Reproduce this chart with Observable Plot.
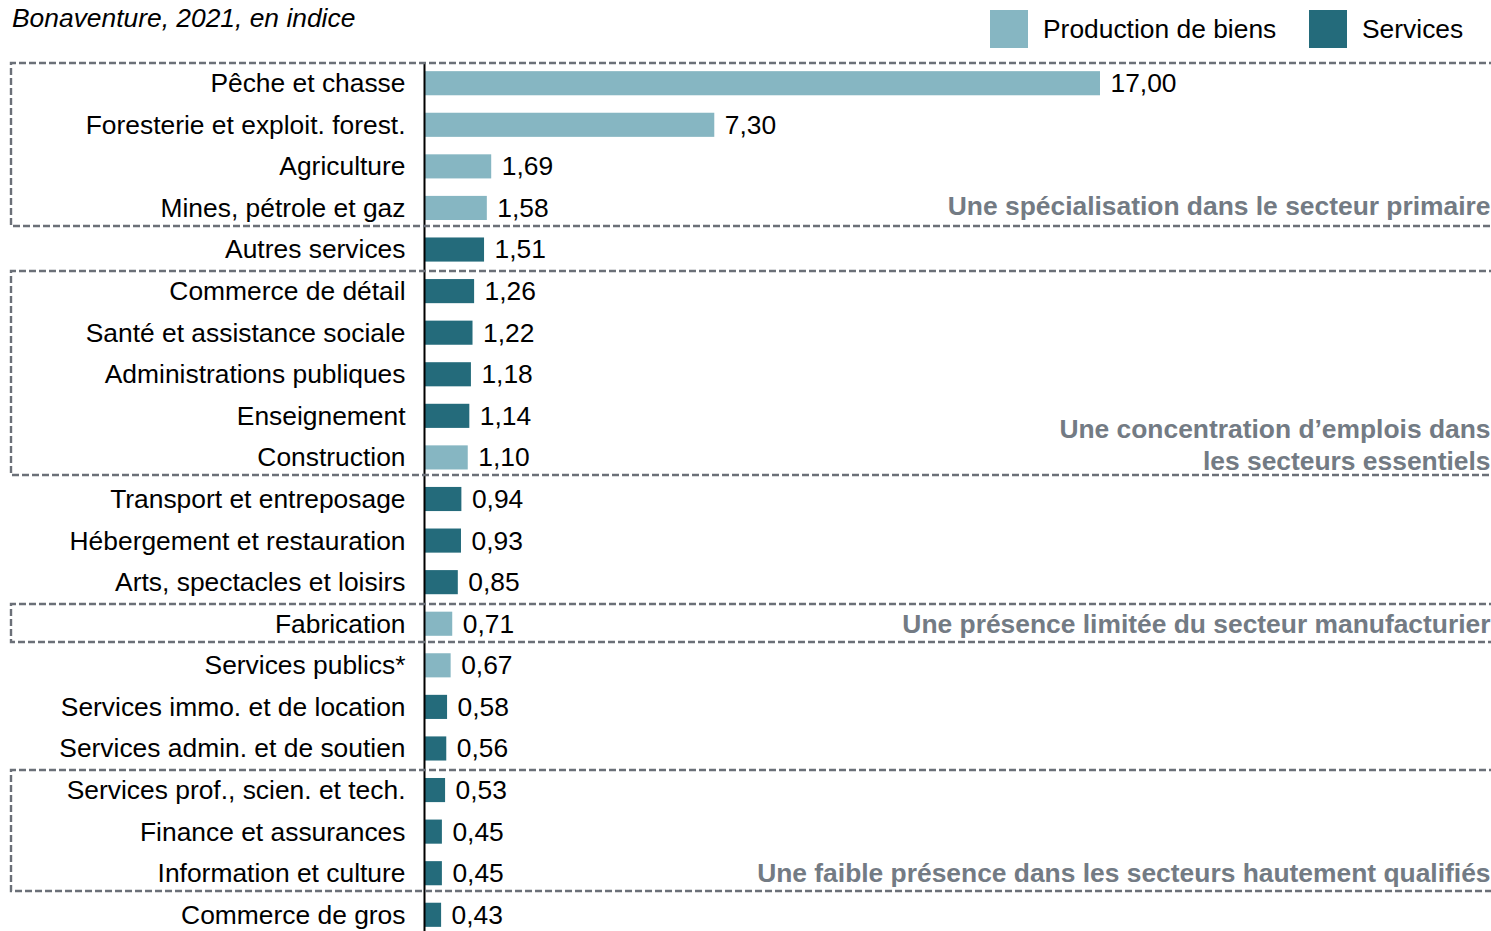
<!DOCTYPE html>
<html>
<head>
<meta charset="utf-8">
<script src="https://cdn.jsdelivr.net/npm/d3@7"></script>
<script src="https://cdn.jsdelivr.net/npm/@observablehq/plot@0.6"></script>
<style>
  html, body { margin: 0; padding: 0; background: #fff; }
  body { width: 1491px; height: 931px; overflow: hidden; font-family: "Liberation Sans", Arial, sans-serif; }
  #header { position: relative; height: 52px; }
  #title { position: absolute; left: 12px; top: 0; font-size: 26.4px; font-style: italic; line-height: 36px; color: #000; }
  .sw { position: absolute; top: 10px; width: 38px; height: 38px; }
  .lt { position: absolute; top: 10px; line-height: 38px; font-size: 26.4px; color: #000; }
</style>
</head>
<body>
<div id="header">
  <div id="title"></div>
  <div id="legend"></div>
</div>
<div id="chart"></div>
<script>
// ---- Data ----
const sectors = [
  "Pêche et chasse",
  "Foresterie et exploit. forest.",
  "Agriculture",
  "Mines, pétrole et gaz",
  "Autres services",
  "Commerce de détail",
  "Santé et assistance sociale",
  "Administrations publiques",
  "Enseignement",
  "Construction",
  "Transport et entreposage",
  "Hébergement et restauration",
  "Arts, spectacles et loisirs",
  "Fabrication",
  "Services publics*",
  "Services immo. et de location",
  "Services admin. et de soutien",
  "Services prof., scien. et tech.",
  "Finance et assurances",
  "Information et culture",
  "Commerce de gros"
];
const values = [17.00, 7.30, 1.69, 1.58, 1.51, 1.26, 1.22, 1.18, 1.14, 1.10, 0.94, 0.93, 0.85, 0.71, 0.67, 0.58, 0.56, 0.53, 0.45, 0.45, 0.43];
const types = ["P","P","P","P","S","S","S","S","S","P","S","S","S","P","P","S","S","S","S","S","S"];
const seriesNames = {P: "Production de biens", S: "Services"};
const seriesColors = ["#86b6c2", "#246b7b"];
const title = "Bonaventure, 2021, en indice";

const boxFrom = ["Pêche et chasse", "Commerce de détail", "Fabrication", "Services prof., scien. et tech."];
const boxTo   = ["Mines, pétrole et gaz", "Construction", "Fabrication", "Information et culture"];
const noteRows  = ["Mines, pétrole et gaz", "Construction", "Construction", "Fabrication", "Information et culture"];
const noteTexts = ["Une spécialisation dans le secteur primaire", "Une concentration d’emplois dans", "les secteurs essentiels", "Une présence limitée du secteur manufacturier", "Une faible présence dans les secteurs hautement qualifiés"];
const noteDy = [-2, -28, 4, 0, 0];

// ---- Build ----
const data = sectors.map((s, i) => ({sector: s, value: values[i], type: seriesNames[types[i]]}));
const notes = noteTexts.map((t, i) => ({row: noteRows[i], text: t, dy: noteDy[i]}));
const fmt = v => d3.format(".2f")(v).replace(".", ",");

document.getElementById("title").textContent = title;
const legend = document.getElementById("legend");
const legendX = [[990, 1043], [1309, 1362]];
Object.values(seriesNames).forEach((name, i) => {
  const sw = document.createElement("div");
  sw.className = "sw"; sw.style.left = legendX[i][0] + "px"; sw.style.background = seriesColors[i];
  const t = document.createElement("div");
  t.className = "lt"; t.style.left = legendX[i][1] + "px"; t.textContent = name;
  legend.appendChild(sw); legend.appendChild(t);
});

const W = 1491, H = 879;
const FS = 26.4;
const chart = Plot.plot({
  width: W,
  height: H,
  marginTop: 15,
  marginBottom: 0,
  marginLeft: 424,
  marginRight: 1,
  style: {fontFamily: "'Liberation Sans', Arial, sans-serif", fontSize: FS + "px", color: "#000", background: "#fff"},
  x: {domain: [0, 17], range: [424, 1100], axis: null},
  y: {domain: sectors, paddingInner: 0.42, paddingOuter: 0.1, round: false, label: null},
  color: {domain: Object.values(seriesNames), range: seriesColors},
  marks: [
    Plot.barX(data, {x: "value", y: "sector", fill: "type"}),
    Plot.ruleX([0], {stroke: "#000", strokeWidth: 2, insetTop: -5}),
    Plot.axisY({tickSize: 0, tickPadding: 19, fontSize: FS, fill: "#000", label: null}),
    Plot.text(data, {x: "value", y: "sector", text: d => fmt(d.value), dx: 10, textAnchor: "start", fontSize: FS, fill: "#000"}),
    ...notes.map(n => Plot.text([n], {y: "row", text: "text", dy: n.dy, frameAnchor: "right", textAnchor: "end", fontSize: FS, fontWeight: "bold", fill: "#737b84"}))
  ]
});
document.getElementById("chart").appendChild(chart);

// dashed boxes positioned from the y scale
const svg = d3.select(chart);
const ys = chart.scale("y");
const g = svg.append("g").attr("fill", "none").attr("stroke", "#6b7078").attr("stroke-width", 2.4).attr("stroke-dasharray", "7,3");
boxFrom.forEach((f, i) => {
  const top = Math.round(ys.apply(f) - 8);
  const bottom = Math.round(ys.apply(boxTo[i]) + ys.bandwidth + 6);
  g.append("path").attr("d", `M${W + 5},${top}H11V${bottom}H${W + 5}`);
});
</script>
</body>
</html>
